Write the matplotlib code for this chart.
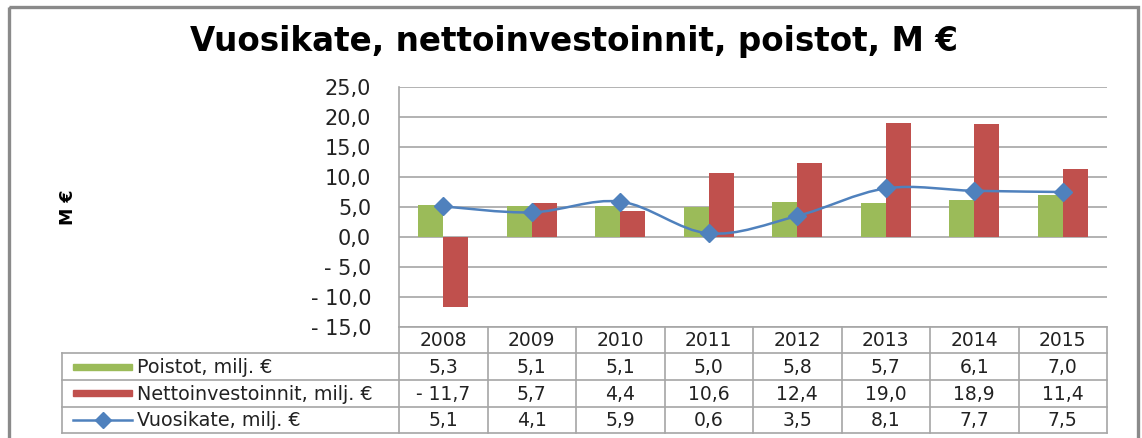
import matplotlib
matplotlib.use("Agg")
import matplotlib.pyplot as plt
import numpy as np
from matplotlib.path import Path
from matplotlib.patches import PathPatch, Rectangle
from matplotlib.lines import Line2D

years = ["2008", "2009", "2010", "2011", "2012", "2013", "2014", "2015"]
poistot = [5.3, 5.1, 5.1, 5.0, 5.8, 5.7, 6.1, 7.0]
netto = [-11.7, 5.7, 4.4, 10.6, 12.4, 19.0, 18.9, 11.4]
vuosikate = [5.1, 4.1, 5.9, 0.6, 3.5, 8.1, 7.7, 7.5]
series_names = ["Poistot, milj. €", "Nettoinvestoinnit, milj. €", "Vuosikate, milj. €"]
title = "Vuosikate, nettoinvestoinnit, poistot, M €"
ylabel = "M €"
yticks = [-15, -10, -5, 0, 5, 10, 15, 20, 25]

C_GREEN = "#9BBB59"
C_RED = "#C0504D"
C_BLUE = "#4F81BD"
C_GRID = "#A6A6A6"

W, H = 1142, 438
fig = plt.figure(figsize=(W / 100, H / 100), dpi=100)
plt.rcParams['font.family'] = ['DejaVu Sans']


def fx(px):
    return px / W


def fy(py):
    return (H - py) / H


# main plot area
L, R, T, B = 399, 1107, 87, 327
ax = fig.add_axes([fx(L), fy(B), fx(R) - fx(L), fy(T) - fy(B)])
n = len(years)
x = np.arange(n)
bw = 0.28
ax.bar(x - bw / 2, poistot, width=bw, color=C_GREEN, zorder=3)
ax.bar(x + bw / 2, netto, width=bw, color=C_RED, zorder=3)

# smoothed line (Excel-style Bezier through the data points)
pts = np.column_stack([x, vuosikate]).astype(float)
verts = [tuple(pts[0])]
codes = [Path.MOVETO]
for i in range(n - 1):
    p0 = pts[i - 1] if i > 0 else pts[i]
    p1 = pts[i]
    p2 = pts[i + 1]
    p3 = pts[i + 2] if i + 2 < n else pts[i + 1]
    c1 = p1 + (p2 - p0) / 6.0
    c2 = p2 - (p3 - p1) / 6.0
    verts += [tuple(c1), tuple(c2), tuple(p2)]
    codes += [Path.CURVE4] * 3
ax.add_patch(PathPatch(Path(verts, codes), fill=False, edgecolor=C_BLUE, lw=1.8, zorder=4))
ax.plot(x, vuosikate, linestyle="none", marker="D", markersize=9, color=C_BLUE, zorder=5)

ax.set_xlim(-0.5, n - 0.5)
ax.set_ylim(-15, 25)
ax.set_yticks(yticks)


def fmt(v):
    s = f"{abs(v):.1f}".replace(".", ",")
    return ("- " + s) if v < 0 else s


ax.set_yticklabels([fmt(v) for v in yticks], fontsize=15, color="#222222")
ax.tick_params(axis="y", length=0, pad=20)
ax.set_xticks([])
ax.grid(axis="y", color=C_GRID, lw=1.2, zorder=0)
for s in ["top", "right"]:
    ax.spines[s].set_visible(False)
ax.spines["left"].set_color(C_GRID)
ax.spines["bottom"].set_color(C_GRID)
ax.spines["left"].set_linewidth(1.2)
ax.spines["bottom"].set_linewidth(1.2)

# overlay for title, frame and data table (pixel coordinates)
ov = fig.add_axes([0, 0, 1, 1], zorder=10)
ov.set_xlim(0, W)
ov.set_ylim(H, 0)
ov.axis("off")
ov.patch.set_alpha(0)

ov.add_patch(Rectangle((9, 7), 1129, 450, fill=False, edgecolor="#8A8A8A", lw=2.4))
ov.text(574, 51, title, ha="center", va="baseline", fontsize=23.5, fontweight="bold", color="black")
ov.text(68, 207, ylabel, ha="center", va="center", rotation=90, fontsize=12.5, fontweight="bold")

# column boundaries from the plot's x scale
to_px = lambda xv: ov.transData.inverted().transform(ax.transData.transform((xv, 0)))[0]
centers = [to_px(i) for i in range(n)]
bounds = [to_px(i - 0.5) for i in range(n + 1)]

rows = [B, 353, 380, 406.5, 433]
TL = 62
lkw = dict(color=C_GRID, lw=1.2)
for b in bounds:
    ov.add_line(Line2D([b, b], [rows[0], rows[-1]], **lkw))
for r in rows[1:]:
    ov.add_line(Line2D([TL, bounds[-1]], [r, r], **lkw))
ov.add_line(Line2D([TL, TL], [rows[1], rows[-1]], **lkw))

tkw = dict(ha="center", va="center", fontsize=13.5, color="#222222")
for c, yr in zip(centers, years):
    ov.text(c, (rows[0] + rows[1]) / 2 + 1, yr, **tkw)
for ri, vals in enumerate([poistot, netto, vuosikate]):
    yc = (rows[ri + 1] + rows[ri + 2]) / 2 + 1
    for c, v in zip(centers, vals):
        ov.text(c, yc, fmt(v), **tkw)
    ov.text(137, yc, series_names[ri], ha="left", va="center", fontsize=13.8, color="#222222")

# legend keys
y1 = (rows[1] + rows[2]) / 2
y2 = (rows[2] + rows[3]) / 2
y3 = (rows[3] + rows[4]) / 2
ov.add_patch(Rectangle((73, y1 - 3), 59, 6, color=C_GREEN))
ov.add_patch(Rectangle((73, y2 - 3), 59, 6, color=C_RED))
ov.add_line(Line2D([73, 132], [y3, y3], color=C_BLUE, lw=1.8))
ov.add_line(Line2D([102.5], [y3], marker="D", markersize=8, color=C_BLUE))

fig.savefig("out.png", dpi=100)
